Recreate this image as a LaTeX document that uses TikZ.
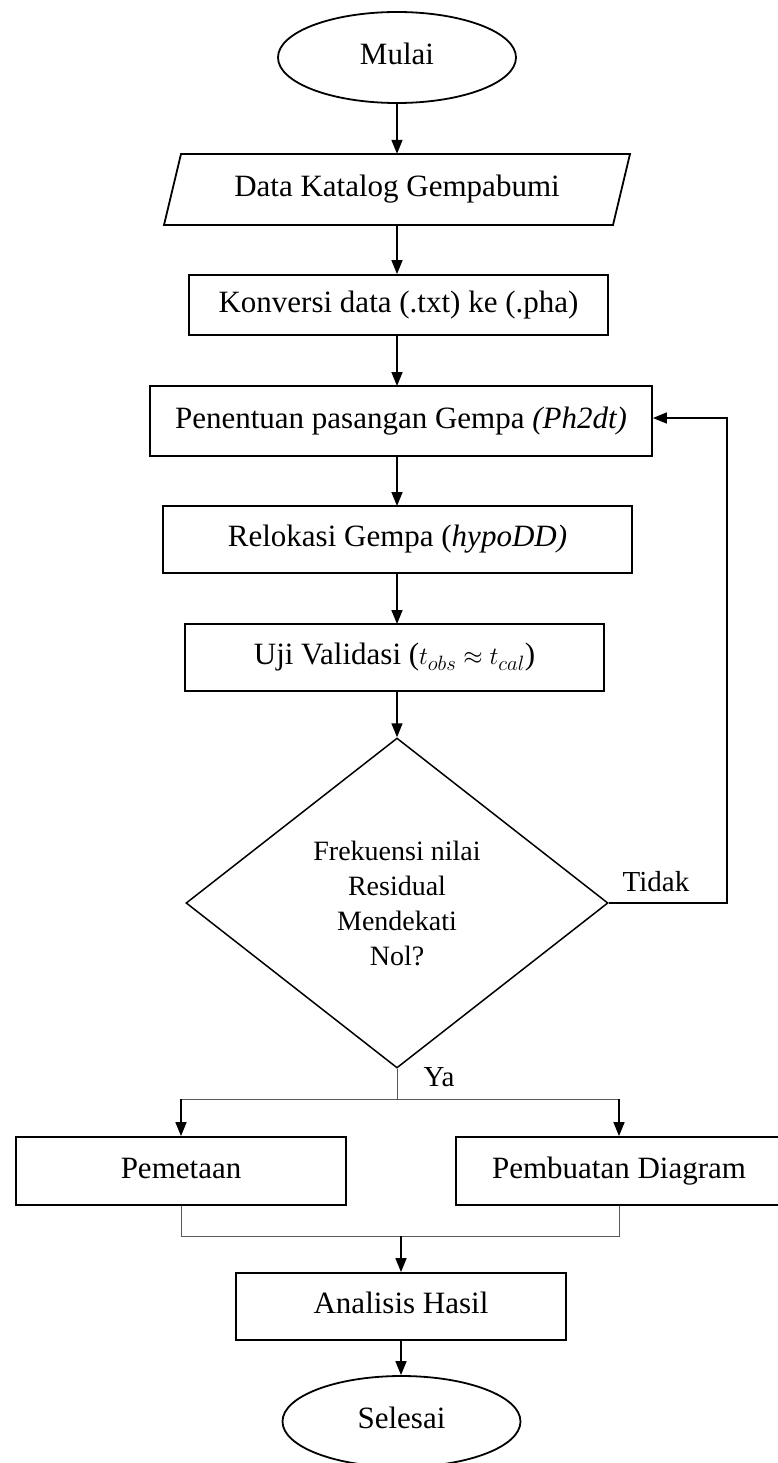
\documentclass[tikz,border=0pt]{standalone}
\usepackage{fontspec}
\setmainfont{Liberation Serif}
\usetikzlibrary{shapes.geometric,arrows.meta}
\begin{document}
\begin{tikzpicture}[x=1pt,y=-1pt,
  every node/.style={font=\fontsize{31}{37}\selectfont},
  boxline/.style={draw=black,line width=1.8pt},
  procbox/.style={boxline,rectangle,inner sep=0pt,align=center,text height=21pt,text depth=7pt},
  term/.style={boxline,ellipse,inner sep=0pt,minimum width=238pt,minimum height=91pt,text height=21pt,text depth=7pt},
  arr/.style={draw=black,line width=1.6pt,-{Triangle[length=14pt,width=11pt]}},
  thinline/.style={draw=black!65,line width=1pt},
  lbl/.style={font=\fontsize{29}{34}\selectfont,inner sep=0pt}
]
\path[use as bounding box] (0,0) rectangle (778,1463);
\clip (0,0) rectangle (778,1463);

% nodes
\node[term] (mulai) at (397,57.5) {Mulai};
\node[inner sep=0pt,minimum width=449pt,minimum height=71pt,text height=21pt,text depth=7pt] (data) at (397,189.5) {Data Katalog Gempabumi};
\draw[boxline] (164,225) -- (181,154) -- (630,154) -- (613,225) -- cycle;
\node[procbox,minimum width=419pt,minimum height=60pt] (konv) at (398.5,305) {Konversi data (.txt) ke (.pha)};
\node[procbox,minimum width=502pt,minimum height=70pt] (pen) at (401,421) {Penentuan pasangan Gempa \textit{(Ph2dt)}};
\node[procbox,minimum width=469pt,minimum height=67pt] (relok) at (397.5,539.5) {Relokasi Gempa (\textit{hypoDD)}};
\node[procbox,minimum width=419pt,minimum height=67pt] (uji) at (394.5,657.5) {Uji Validasi ($t_{obs}\approx t_{cal}$)};
\node[draw=black,line width=1.5pt,diamond,minimum width=422pt,minimum height=330pt,inner sep=0pt,align=center,font=\fontsize{28}{35}\selectfont] (dec) at (397,903) {Frekuensi nilai\\Residual\\Mendekati\\Nol?};
\node[procbox,minimum width=330pt,minimum height=68pt] (pem) at (181,1171) {Pemetaan};
\node[procbox,minimum width=326pt,minimum height=68pt] (pemb) at (619,1171) {Pembuatan Diagram};
\node[procbox,minimum width=330pt,minimum height=67pt] (anal) at (401,1306.5) {Analisis Hasil};
\node[term] (selesai) at (401.5,1421.5) {Selesai};

% labels
\node[lbl] (tidak) at (656,882) {Tidak};
\node[lbl] (ya) at (439,1077) {Ya};

% connectors
\draw[arr] (mulai.south) -- (mulai.south |- data.north);
\draw[arr] (data.south) -- (data.south |- konv.north);
\draw[arr] (397,335) -- (397,386);
\draw[arr] (397,456) -- (397,506);
\draw[arr] (397,573) -- (397,624);
\draw[arr] (397,691) -- (dec.north);

\draw[arr] (dec.east) -- ++(118,0) |- ([yshift=3pt]pen.east);

\coordinate (split) at (397,1099);
\draw[thinline] (dec.south) -- (split);
\draw[thinline] (pem.north |- split) -- (pemb.north |- split);
\draw[arr] (pem.north |- split) -- (pem.north);
\draw[arr] (pemb.north |- split) -- (pemb.north);

\coordinate (join) at (401,1236);
\draw[thinline] (pem.south) -- (pem.south |- join) -- (pemb.south |- join) -- (pemb.south);
\draw[arr] (join) -- (anal.north);
\draw[arr] (anal.south) -- (anal.south |- selesai.north);
\end{tikzpicture}
\end{document}
